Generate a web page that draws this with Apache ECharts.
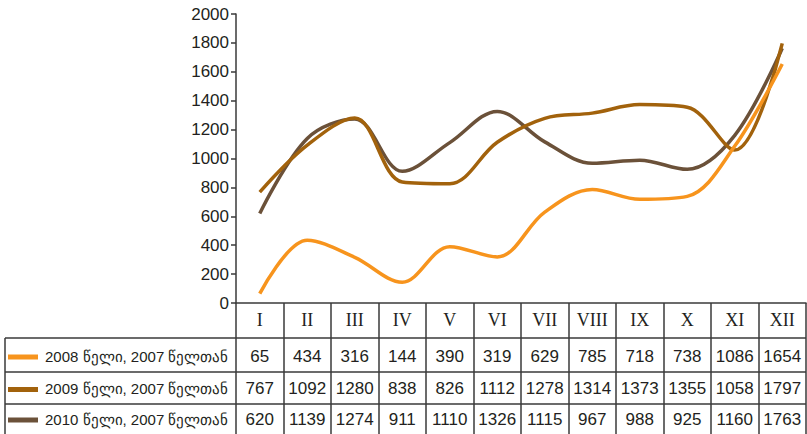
<!DOCTYPE html>
<html>
<head>
<meta charset="utf-8">
<script src="https://cdn.jsdelivr.net/npm/echarts@6/dist/echarts.min.js"></script>
<style>
html,body{margin:0;padding:0;background:#fff;}
#chart{width:807px;height:434px;}
</style>
</head>
<body>
<div id="chart"></div>
<script>
const categories = ['I','II','III','IV','V','VI','VII','VIII','IX','X','XI','XII'];
const seriesNames = ['2008 წელი, 2007 წელთან','2009 წელი, 2007 წელთან','2010 წელი, 2007 წელთან'];
const values2008 = [65,434,316,144,390,319,629,785,718,738,1086,1654];
const values2009 = [767,1092,1280,838,826,1112,1278,1314,1373,1355,1058,1797];
const values2010 = [620,1139,1274,911,1110,1326,1115,967,988,925,1160,1763];
const yMin = 0, yMax = 2000, yInterval = 200;

const colors = ['#F7941D','#A2620C','#6B5139'];
const allValues = [values2008, values2009, values2010];
const sansFont = 'Liberation Sans';
const serifFont = 'Liberation Serif';
const textColor = '#231f20';
const lineColor = '#3a3a3a';

const chart = echarts.init(document.getElementById('chart'), null, {renderer:'svg'});
const gridLeft = 236, gridRight = 1, gridTop = 14, gridBottom = 131;

chart.setOption({
  animation:false,
  backgroundColor:'#fff',
  grid:{left:gridLeft,right:gridRight,top:gridTop,bottom:gridBottom,containLabel:false},
  xAxis:{
    type:'category',
    data:categories,
    boundaryGap:true,
    axisLine:{lineStyle:{color:lineColor,width:1.5}},
    axisTick:{show:true,interval:0,alignWithLabel:false,length:131,lineStyle:{color:lineColor,width:1.5}},
    axisLabel:{interval:0,margin:8,fontFamily:serifFont,fontSize:18,color:textColor},
    splitLine:{show:false}
  },
  yAxis:{
    type:'value',
    min:yMin,max:yMax,interval:yInterval,
    axisLine:{show:true,lineStyle:{color:lineColor,width:1.5}},
    axisTick:{show:true,length:5,lineStyle:{color:lineColor,width:1.5}},
    axisLabel:{margin:7,fontFamily:sansFont,fontSize:17,color:textColor,formatter:v=>String(v)},
    splitLine:{show:false}
  },
  series:allValues.map((v,i)=>({
    name:seriesNames[i],
    type:'line',
    data:v,
    smooth:0.35,
    symbol:'none',
    lineStyle:{color:colors[i],width:3.5},
    itemStyle:{color:colors[i]},
    z:3-i
  }))
});

const rowLines = [338, 372, 404];
const rowCenters = [356, 388.5, 419];
const graphics = [];
rowLines.forEach(y=>{
  graphics.push({type:'line',shape:{x1:5,y1:y,x2:806,y2:y},style:{stroke:lineColor,lineWidth:1.5},silent:true});
});
graphics.push({type:'line',shape:{x1:5,y1:338,x2:5,y2:434},style:{stroke:lineColor,lineWidth:1.5},silent:true});
allValues.forEach((vals,r)=>{
  graphics.push({type:'line',shape:{x1:8,y1:rowCenters[r]+1,x2:38,y2:rowCenters[r]+1},style:{stroke:colors[r],lineWidth:5},silent:true});
  graphics.push({type:'text',x:45,y:rowCenters[r],style:{text:seriesNames[r],fontSize:15,fontFamily:sansFont,fill:textColor,align:'left',verticalAlign:'middle'},silent:true});
  vals.forEach((v,i)=>{
    const cx = chart.convertToPixel({xAxisIndex:0}, i);
    graphics.push({type:'text',x:cx,y:rowCenters[r],style:{text:String(v),fontSize:17,fontFamily:sansFont,fill:textColor,align:'center',verticalAlign:'middle'},silent:true});
  });
});
chart.setOption({graphic:graphics});
</script>
</body>
</html>
